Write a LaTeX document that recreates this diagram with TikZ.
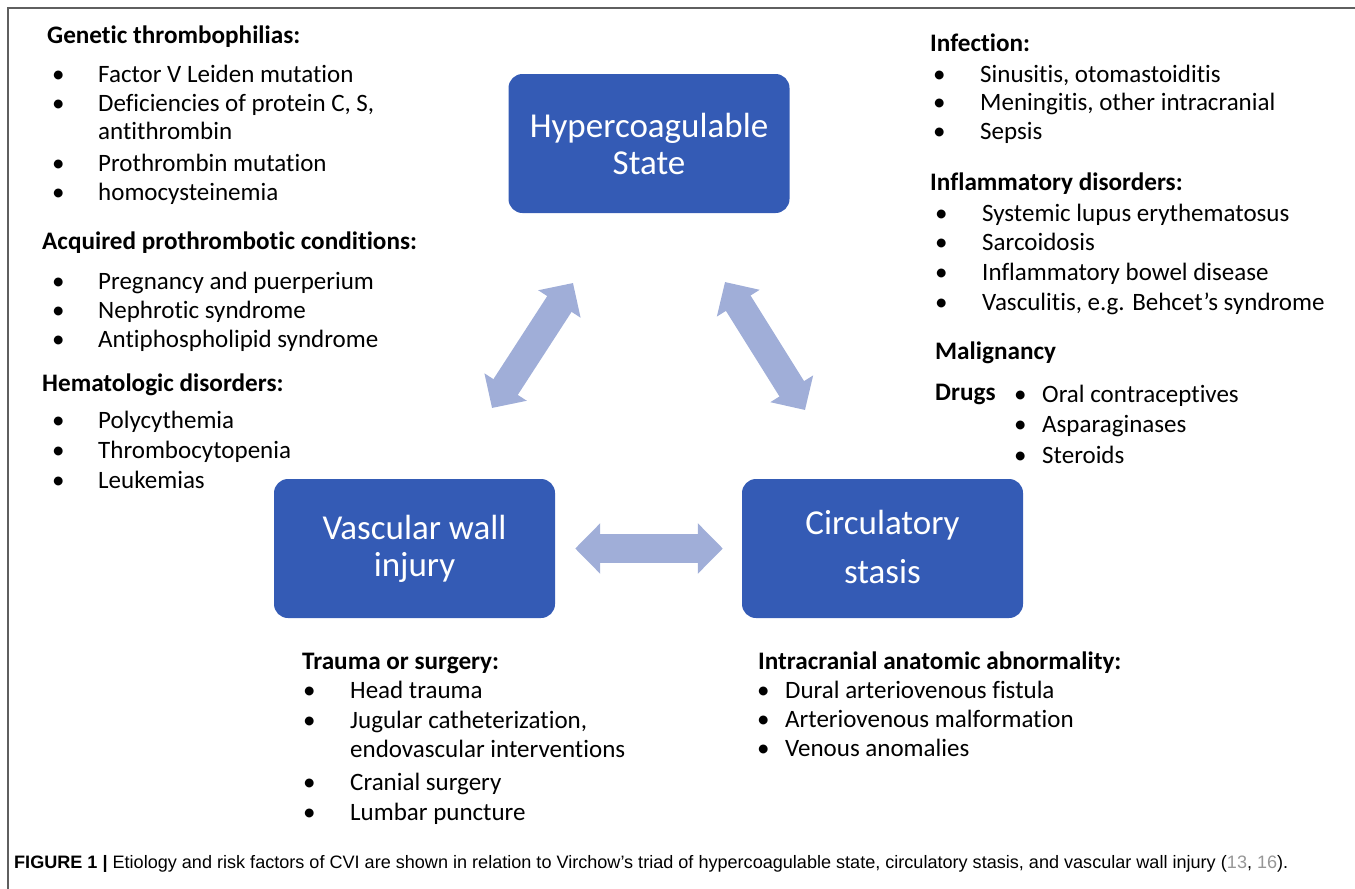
\documentclass[tikz,border=0pt]{standalone}
\usepackage{fontspec}
\setmainfont{Carlito}[Ligatures=NoCommon]
\newfontfamily\capfont{Liberation Sans}
\usetikzlibrary{arrows.meta}

\definecolor{boxblue}{RGB}{52,91,181}
\definecolor{linkblue}{RGB}{160,174,216}
\definecolor{refgray}{RGB}{150,150,150}
\definecolor{framegray}{RGB}{95,95,95}

\tikzset{
  factorbox/.style={fill=boxblue, rounded corners=14pt, text=white, align=center,
    font=\fontsize{35}{37}\selectfont, minimum width=281pt, minimum height=139pt},
  heading/.style={anchor=west, inner sep=0pt, text height=20pt, text depth=4pt,
    font=\fontsize{25.2}{29}\selectfont\bfseries},
  item/.style={anchor=west, inner sep=0pt, text height=20pt, text depth=4pt,
    font=\fontsize{25}{29}\selectfont},
  linkarrow/.style={draw=linkblue, line width=29pt,
    {Triangle[length=25pt,width=49pt]}-{Triangle[length=25pt,width=49pt]}}
}

\begin{document}
\begin{tikzpicture}[x=1pt,y=-1pt]
\useasboundingbox (0,0) rectangle (1355,889);
\draw[framegray, line width=1.3pt] (8,889) -- (8,8) -- (1355,8);

% the three boxes of the triad
\node[factorbox] (hyper) at (649,143.5) {Hypercoagulable\\State};
\node[factorbox] (vasc) at (414.5,548.5) {Vascular wall\\injury};
\node[factorbox] (circ) at (882.5,548.5) {\raisebox{3pt}{Circulatory}\\[12pt]\raisebox{3pt}{stasis}};

% arrows between them
\coordinate (hvtop) at (573,283);
\coordinate (hvbot) at (492,408);
\coordinate (hctop) at (725,282);
\coordinate (hcbot) at (805,410);
\draw[linkarrow] (hvtop) -- (hvbot);
\draw[linkarrow] (hctop) -- (hcbot);
\draw[linkarrow, shorten <=20pt, shorten >=19pt] (vasc.east) -- (circ.west);

% left column
\node[heading] (genet) at (47,35) {Genetic thrombophilias:};
\foreach \y in {74,103,163,192} \node[item] (gb\y) at (52,\y) {•};
\node[item] (gen1) at (98,74) {Factor V Leiden mutation};
\node[item] (gen2) at (98,103) {Deficiencies of protein C, S,};
\node[item] (gen3) at (98,131) {antithrombin};
\node[item] (gen4) at (98,163) {Prothrombin mutation};
\node[item] (gen5) at (98,192) {homocysteinemia};

\node[heading] (acq) at (42,241) {Acquired prothrombotic conditions:};
\foreach \y in {281,310,339} \node[item] (ab\y) at (52,\y) {•};
\node[item] (acq1) at (98,281) {Pregnancy and puerperium};
\node[item] (acq2) at (98,310) {Nephrotic syndrome};
\node[item] (acq3) at (98,339) {Antiphospholipid syndrome};

\node[heading] (hema) at (42,383) {Hematologic disorders:};
\foreach \y in {420,450,480} \node[item] (hb\y) at (52,\y) {•};
\node[item] (hem1) at (98,420) {Polycythemia};
\node[item] (hem2) at (98,450) {Thrombocytopenia};
\node[item] (hem3) at (98,480) {Leukemias};

% right column
\node[heading] (infec) at (930,43) {Infection:};
\foreach \y in {74,102,131} \node[item] (ib\y) at (933,\y) {•};
\node[item] (inf1) at (980,74) {Sinusitis, otomastoiditis};
\node[item] (inf2) at (980,102) {Meningitis, other intracranial};
\node[item] (inf3) at (980,131) {Sepsis};

\node[heading] (infl) at (930,182) {Inflammatory disorders:};
\foreach \y in {213,242,272,302} \node[item] (fb\y) at (935,\y) {•};
\node[item] (infl1) at (982,213) {Systemic lupus erythematosus};
\node[item] (infl2) at (982,242) {Sarcoidosis};
\node[item] (infl3) at (982,272) {Inflammatory bowel disease};
\node[item] (infl4) at (982,302) {Vasculitis, e.g. Behcet’s syndrome};

\node[heading] (malig) at (935,351) {Malignancy};
\node[heading] (drugs) at (935,392) {Drugs};
\foreach \y in {394,424,455} \node[item] (db\y) at (1014,\y) {•};
\node[item] (drug1) at (1042,394) {Oral contraceptives};
\node[item] (drug2) at (1042,424) {Asparaginases};
\node[item] (drug3) at (1042,455) {Steroids};

% under the lower boxes
\node[heading] (trauma) at (302,661) {Trauma or surgery:};
\foreach \y in {690,720,782,812} \node[item] (tb\y) at (303,\y) {•};
\node[item] (tra1) at (350,690) {Head trauma};
\node[item] (tra2) at (350,720) {Jugular catheterization,};
\node[item] (tra3) at (350,749) {endovascular interventions};
\node[item] (tra4) at (350,782) {Cranial surgery};
\node[item] (tra5) at (350,812) {Lumbar puncture};

\node[heading] (anat) at (758,661) {Intracranial anatomic abnormality:};
\foreach \y in {690,719,748} \node[item] (nb\y) at (757,\y) {•};
\node[item] (ana1) at (785,690) {Dural arteriovenous fistula};
\node[item] (ana2) at (785,719) {Arteriovenous malformation};
\node[item] (ana3) at (785,748) {Venous anomalies};

% caption
\node[anchor=base west, inner sep=0pt] (caption) at (14,868)
  {\resizebox{1274pt}{\height}{\capfont\fontsize{18}{20}\selectfont
  \textbf{FIGURE 1 |} Etiology and risk factors of CVI are shown in relation to Virchow’s triad of hypercoagulable state, circulatory stasis, and vascular wall injury (\textcolor{refgray}{13}, \textcolor{refgray}{16}).}};
\end{tikzpicture}
\end{document}
